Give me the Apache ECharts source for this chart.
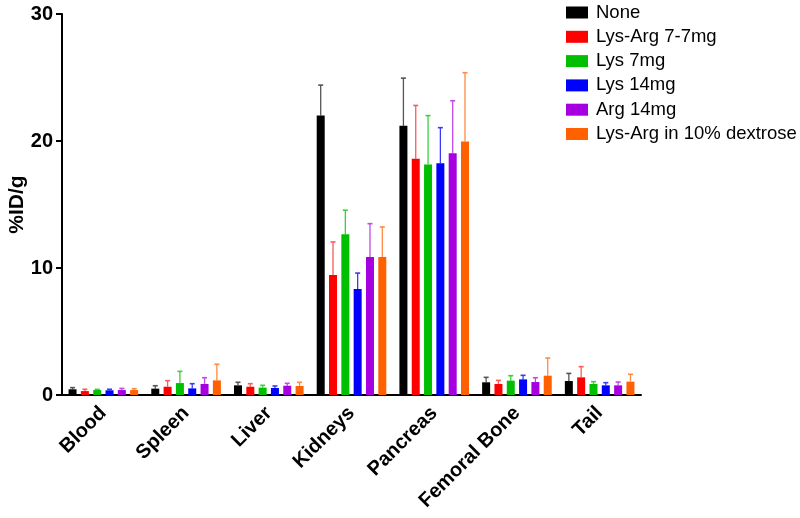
<!DOCTYPE html>
<html>
<head>
<meta charset="utf-8">
<script src="https://cdn.jsdelivr.net/npm/echarts@6/dist/echarts.min.js"></script>
<style>html,body{margin:0;padding:0;background:#fff;}#chart{width:800px;height:518px;}</style>
</head>
<body>
<div id="chart"></div>
<script>
const categories = ['Blood', 'Spleen', 'Liver', 'Kidneys', 'Pancreas', 'Femoral Bone', 'Tail'];
const seriesNames = ['None', 'Lys-Arg 7-7mg', 'Lys 7mg', 'Lys 14mg', 'Arg 14mg', 'Lys-Arg in 10% dextrose'];
const seriesColors = ['#000000', '#ff0000', '#00bf00', '#0000ff', '#a600e0', '#ff6000'];
const errColors = ['#555555', '#ff5a5a', '#3ccf3c', '#3a3aff', '#c04ae8', '#ff8a45'];

const meanNone   = [0.45, 0.50, 0.76, 22.0, 21.2, 1.00, 1.10];
const meanLysArg = [0.31, 0.65, 0.65, 9.45, 18.6, 0.87, 1.39];
const meanLys7   = [0.39, 0.94, 0.58, 12.65, 18.15, 1.13, 0.87];
const meanLys14  = [0.37, 0.52, 0.55, 8.35, 18.25, 1.23, 0.76];
const meanArg14  = [0.39, 0.87, 0.73, 10.87, 19.03, 1.02, 0.76];
const meanDex    = [0.39, 1.15, 0.71, 10.87, 19.97, 1.52, 1.05];

const sdNone   = [0.13, 0.23, 0.24, 2.4, 3.75, 0.39, 0.60];
const sdLysArg = [0.14, 0.48, 0.24, 2.6, 4.2, 0.28, 0.84];
const sdLys7   = [0.05, 0.92, 0.18, 1.9, 3.85, 0.39, 0.18];
const sdLys14  = [0.08, 0.37, 0.16, 1.25, 2.8, 0.32, 0.21];
const sdArg14  = [0.13, 0.49, 0.19, 2.62, 4.14, 0.34, 0.26];
const sdDex    = [0.11, 1.27, 0.29, 2.36, 5.41, 1.39, 0.58];

const yTicks = [0, 10, 20, 30];

const means = [meanNone, meanLysArg, meanLys7, meanLys14, meanArg14, meanDex];
const sds = [sdNone, sdLysArg, sdLys7, sdLys14, sdArg14, sdDex];

const BAR_W = 8;
const BAR_GAP = 0.54;
const pitch = BAR_W * (1 + BAR_GAP);

const series = [];
means.forEach((m, i) => {
  series.push({
    name: seriesNames[i],
    type: 'bar',
    data: m,
    barWidth: BAR_W,
    barGap: (BAR_GAP * 100) + '%',
    itemStyle: { color: seriesColors[i] },
    z: 2
  });
});
means.forEach((m, i) => {
  const data = m.map((v, k) => [k, v, v + sds[i][k]]);
  series.push({
    name: 'err' + i,
    type: 'custom',
    data: data,
    z: 1,
    renderItem: function (params, api) {
      const c = api.value(0);
      const p0 = api.coord([c, api.value(1)]);
      const p1 = api.coord([c, api.value(2)]);
      const x = p0[0] + (i - 2.5) * pitch;
      const cap = 2.5;
      return {
        type: 'group',
        children: [
          { type: 'line', shape: { x1: x, y1: p0[1], x2: x, y2: p1[1] }, style: { stroke: errColors[i], lineWidth: 1.3 } },
          { type: 'line', shape: { x1: x - cap, y1: p1[1], x2: x + cap, y2: p1[1] }, style: { stroke: errColors[i], lineWidth: 1.6 } }
        ]
      };
    }
  });
});

const chart = echarts.init(document.getElementById('chart'));
chart.setOption({
  animation: false,
  backgroundColor: '#ffffff',
  grid: { left: 62, right: 159, top: 14, bottom: 123, containLabel: false, outerBoundsMode: 'none' },
  legend: {
    data: seriesNames,
    orient: 'vertical',
    left: 561,
    top: -2,
    itemWidth: 22,
    itemHeight: 12,
    itemGap: 5.3,
    icon: 'rect',
    textStyle: { fontFamily: 'Liberation Sans', fontSize: 18.5, color: '#000', lineHeight: 18, padding: [0, 0, 0, 3] }
  },
  xAxis: {
    type: 'category',
    data: categories,
    axisLine: { lineStyle: { color: '#000', width: 2 } },
    axisTick: { alignWithLabel: true, length: 6, lineStyle: { color: '#000', width: 2 } },
    axisLabel: { rotate: 45, margin: 15, fontFamily: 'Liberation Sans', fontWeight: 'bold', fontSize: 20, color: '#000' }
  },
  yAxis: {
    type: 'value',
    min: yTicks[0],
    max: yTicks[yTicks.length - 1],
    interval: 10,
    name: '%ID/g',
    nameLocation: 'middle',
    nameGap: 34,
    nameMoveOverlap: false,
    nameTextStyle: { fontFamily: 'Liberation Sans', fontWeight: 'bold', fontSize: 21, color: '#000' },
    axisLine: { show: true, lineStyle: { color: '#000', width: 2 } },
    axisTick: { show: true, length: 6, lineStyle: { color: '#000', width: 2 } },
    splitLine: { show: false },
    axisLabel: { margin: 9, fontFamily: 'Liberation Sans', fontWeight: 'bold', fontSize: 20, color: '#000' }
  },
  series: series
});
</script>
</body>
</html>
